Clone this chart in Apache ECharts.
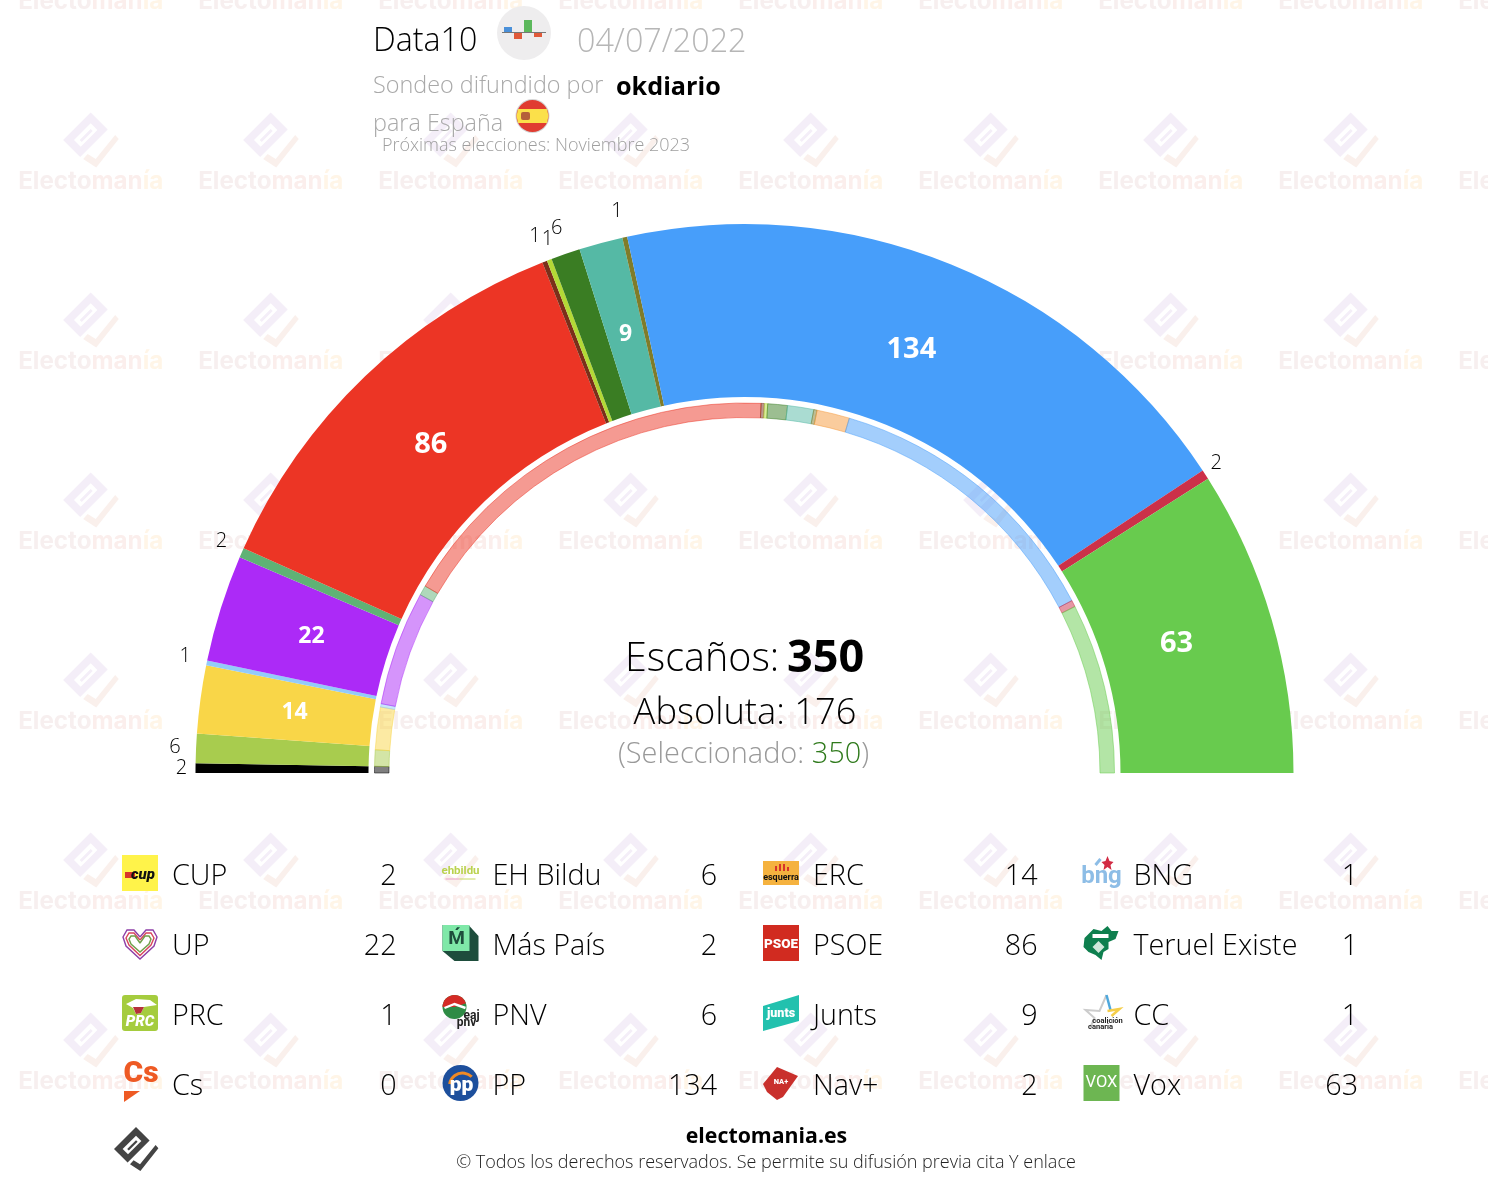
<!DOCTYPE html>
<html><head><meta charset="utf-8">
<style>html,body{margin:0;padding:0;background:#fff}#c{width:1488px;height:1186px}</style>
<script src="https://cdn.jsdelivr.net/npm/echarts@6/dist/echarts.min.js"></script>
</head><body><div id="c"></div>
<script>
const parties = ['CUP','EH Bildu','ERC','BNG','UP','Más País','PSOE','PRC','Teruel Existe','PNV','Junts','CC','Cs','PP','Nav+','Vox'];
const seats   = [2,6,14,1,22,2,86,1,1,6,9,1,0,134,2,63];
const previousSeats = [2,5,13,1,35,3,121,1,1,6,8,1,10,89,2,52];
const colors  = ['#000000','#A8CC4E','#F9D648','#93CBF9','#AC2AF7','#5FB275','#EC3525','#7A2F1A','#B4D936','#3A7D23','#55B9A5','#7F7C2A','#F59A3C','#479EFA','#CC3049','#68CB4E'];
const legendOrder = ['CUP','UP','PRC','Cs','EH Bildu','Más País','PNV','PP','ERC','PSOE','Junts','Nav+','BNG','Teruel Existe','CC','Vox'];
const totalSeats = 350, majority = 176, selected = 350;
const pollster = 'Data10', pollDate = '04/07/2022', media = 'okdiario';

const F = '"Open Sans"';
const C = [744.5, 773];
const seatOf = n => seats[parties.indexOf(n)];
const outerLabelRadius = {560:['CUP','Nav+'],567:['EH Bildu','BNG','Más País'],568:['Teruel Existe'],573:['PRC','PNV','CC']};
const labelNudge = {'PP':[-4,-3],'Vox':[-4,-3],'Nav+':[-1,-4],'BNG':[-1,-2],'CC':[-2,0],'Más País':[-1,-3],'Teruel Existe':[6,0]};

const base = {type:'pie',center:C,startAngle:180,endAngle:0,silent:true,animation:false,avoidLabelOverlap:false,labelLine:{show:false},labelLayout:{hideOverlap:false},emphasis:{disabled:true}};
const series = [
 Object.assign({},base,{radius:[376,549],
  data:parties.map((n,i)=>({name:n,value:seats[i],itemStyle:{color:colors[i]},label:{show:false}}))}),
 Object.assign({},base,{radius:[355.5,370],
  data:parties.map((n,i)=>({name:n,value:previousSeats[i],itemStyle:{color:colors[i],opacity:.5,borderColor:colors[i],borderWidth:1},label:{show:false}}))}),
 Object.assign({},base,{radius:[451,451],
  data:parties.map((n,i)=>({name:n,value:seats[i],itemStyle:{color:'transparent'},
    label:{show:seats[i]>=9,position:'inside',offset:labelNudge[n]||[0,0],formatter:'{c}',color:'#fff',fontFamily:F,fontWeight:700,fontSize:seats[i]>=50?29:23}}))})
];
Object.keys(outerLabelRadius).forEach(r=>{
 series.push(Object.assign({},base,{radius:[+r,+r],
  data:parties.map((n,i)=>({name:n,value:seats[i],itemStyle:{color:'transparent'},
    label:{show:outerLabelRadius[r].includes(n),position:'inside',offset:labelNudge[n]||[0,0],formatter:'{c}',color:'#000',fontFamily:F,fontWeight:300,fontSize:20}}))}));
});

const g = [];
const T=(x,y,s,size,fill,o={})=>({type:'text',x,y,style:Object.assign({text:s,fontFamily:o.ff||F,fontSize:size,fontWeight:o.w||300,fontStyle:o.st||'normal',fill,textAlign:o.a||'left',textVerticalAlign:'middle'})});
const P=(pts,fill)=>({type:'polygon',shape:{points:pts},style:{fill}});
const L=(pts,stroke,w)=>({type:'polyline',shape:{points:pts},style:{stroke,fill:'none',lineWidth:w}});
const R=(x,y,w,h,fill,r)=>({type:'rect',shape:{x,y,width:w,height:h,r:r||0},style:{fill}});
const O=(cx,cy,r,fill)=>({type:'circle',shape:{cx,cy,r},style:{fill}});
const G=(x,y,children)=>({type:'group',x,y,children});

function logo(x,y,s,c1,c2,hole){
 const m=a=>a.map(p=>[p[0]*s,p[1]*s]);
 return G(x,y,[
  P(m([[0,-27.5],[17,-10.5],[-10.5,17],[-27.5,0]]),c1),
  P(m([[-16.7,0],[0,-16.7],[6.7,-10],[-10,6.7]]),hole),
  P(m([[-11,0],[0,-11],[2,-9],[-9,2]]),c1),
  P(m([[24.5,-5],[28,-1],[5.5,27.5],[-7.5,19],[-3,14],[5,19]]),c2)
 ]);
}
// watermark tiles
const wmRich={a:{fontFamily:'Inter',fontWeight:700,fontSize:24.2,fill:'#f7efef',color:'#f7efef'},b:{fontFamily:'Inter',fontWeight:700,fontSize:24.2,fill:'#fbeeec',color:'#fbeeec'},c:{fontFamily:'Inter',fontWeight:700,fontSize:24.2,fill:'#fff5e7',color:'#fff5e7'}};
for(let k=0;k<9;k++){for(let j=0;j<7;j++){
 const x=90.7+180*k,y=2+180*j;
 if(j>0) g.push(logo(x,y-42,1,'#f4eef8','#faf0ec','#ffffff'));
 g.push({type:'text',x,y,style:{text:'{a|Electo}{b|man}{c|ía}',rich:wmRich,textAlign:'center',textVerticalAlign:'middle'}});
}}
// header
g.push(T(373,42,pollster,32.2,'#000'));
g.push(O(524,33,27,'#eeedee'));
g.push(R(504,27,8,6,'#4a90d9'),R(514,33,8,6,'#e05a3a'),R(524,20,8,13,'#5cb85c'),R(534,33,8,4,'#e05a3a'),R(502,32,44,1,'#777'));
g.push(T(577,43,pollDate,32.3,'#b6b6b6'));
g.push(T(373,86,'Sondeo difundido por',23.4,'#a9a9a9'));
g.push(T(616,88,media,25.2,'#000',{w:700}));
g.push(T(373,124,'para España',23.4,'#a9a9a9'));
g.push(O(532.5,116,17,'#d5d5d5'),O(532.5,116,16,'#E03C31'),
 P([[-14.4,-7],[14.4,-7],[16,0],[14.4,7],[-14.4,7],[-16,0]].map(p=>[p[0]+532.5,p[1]+116]),'#FBE04A'),
 R(521,112,9,8,'#b5603a',2));
g.push(T(382,146,'Próximas elecciones: Noviembre 2023',18,'#9f9f9f'));
// centre text
g.push({type:'text',x:625,y:659.5,style:{text:'{a|Escaños:}{s| }{b|'+totalSeats+'}',textVerticalAlign:'middle',rich:{a:{fontFamily:F,fontWeight:300,fontSize:39.5,fill:'#000',color:'#000'},s:{fontFamily:F,fontWeight:300,fontSize:30,fill:'#000',color:'#000'},b:{fontFamily:F,fontWeight:700,fontSize:45,fill:'#000',color:'#000'}}}});
g.push(T(745,714,'Absoluta: '+majority,36.3,'#000',{a:'center'}));
g.push({type:'text',x:618,y:755,style:{text:'{a|(Seleccionado: }{b|'+selected+'}{a|)}',textVerticalAlign:'middle',rich:{a:{fontFamily:F,fontWeight:300,fontSize:28.9,fill:'#999',color:'#999'},b:{fontFamily:F,fontWeight:300,fontSize:28.9,fill:'#2f7a1c',color:'#2f7a1c'}}}});

// party icons, drawn around their own centre
const TXT=(x,y,s,size,fill,o={})=>T(x,y,s,size,fill,Object.assign({a:'center',w:700,ff:'Roboto'},o));
const icons={
 'CUP':()=>[R(-18,-18,36,36,'#FFF34A'),R(-15,-1,10,6,'#D8342A'),TXT(3,2,'cup',15,'#111',{st:'italic',w:900})],
 'UP':()=>[
   L([[0,-6],[-6,-13],[-13,-13],[-17,-6],[-14,3],[0,16],[14,3],[17,-6],[13,-13],[6,-13],[0,-6]],'#8E3FA8',1.4),
   L([[0,-3],[-6,-10],[-11,-10],[-14,-5],[-11,2],[0,12.5],[11,2],[14,-5],[11,-10],[6,-10],[0,-3]],'#D8455C',1.4),
   L([[0,0],[-5,-7],[-9,-7],[-11,-4],[-9,1],[0,9],[9,1],[11,-4],[9,-7],[5,-7],[0,0]],'#6FA04A',1.4)],
 'PRC':()=>[R(-18,-18,36,36,'#A5CC3E',3),P([[-14,-9],[-4,-14],[10,-13],[17,-8],[4,-6],[1,0],[-4,1],[-7,-5]],'#fff'),P([[-7,-6],[4,-6],[1,0],[-4,1]],'#B5303A'),TXT(0,9,'PRC',15,'#fff',{st:'italic',w:900})],
 'Cs':()=>[TXT(1,-9,'Cs',30,'#EE5A24',{w:900}),P([[-16,8],[0,8],[-16,19]],'#EE5A24')],
 'EH Bildu':()=>[TXT(0,-2,'ehbildu',11.5,'#BAD24E'),L([[-15,6],[-1,6]],'#E9A0C8',1),L([[-1,6],[15,6]],'#C8D860',1)],
 'Más País':()=>[P([[-18,8],[-6,18],[18,18],[18,-7],[8,-18],[0,-18],[-18,-18]],'#1E4D3C'),R(-18,-18,27,26,'#7FE8A8'),TXT(-4,-4,'Ḿ',19,'#1E4D3C')],
 'PNV':()=>[O(-6,-6,12,'#2E8B45'),{type:'sector',shape:{cx:-6,cy:-6,r:12,r0:0,startAngle:Math.PI,endAngle:Math.PI*1.9},style:{fill:'#D42A25'}},L([[-16,-5],[-6,-9],[5,-5]],'#fff',2.4),TXT(11,3,'eaj',12,'#222'),TXT(6,10,'pnv',12,'#222')],
 'PP':()=>[O(0,0,18,'#1D4F9C'),{type:'arc',shape:{cx:2,cy:3,r:13,startAngle:Math.PI*1.05,endAngle:Math.PI*1.75},style:{stroke:'#F08A24',lineWidth:3,fill:'none'}},TXT(1,3,'pp',21,'#fff',{w:900})],
 'ERC':()=>[R(-18,-12,36,24,'#F5B23F'),R(-6,-7,2,5,'#D8342A'),R(-2,-9,2,7,'#D8342A'),R(2,-9,2,7,'#D8342A'),R(6,-6,2,4,'#D8342A'),TXT(0,5,'esquerra',9,'#111')],
 'PSOE':()=>[R(-18,-18,36,36,'#D12B20'),TXT(0,2,'PSOE',13.5,'#fff',{w:900})],
 'Junts':()=>[P([[-18,-7],[18,-18],[18,8],[-18,18]],'#22C1AE'),TXT(0,1,'junts',12.5,'#fff',{w:900})],
 'Nav+':()=>[P([[-18,1],[-4,-16],[17,-7],[2,14],[-4,17],[-14,9]],'#C9302C'),TXT(0,-1,'NA+',7.5,'#fff',{w:900})],
 'BNG':()=>[TXT(0,4,'bng',24,'#8DBDE6'),P([[6,-17],[8,-12],[12,-11],[9,-8],[10,-3],[6,-6],[2,-3],[3,-8],[0,-11],[4,-12]],'#D22B44'),L([[-6,-8],[-1,-14]],'#8DBDE6',3)],
 'Teruel Existe':()=>[P([[-17,-5],[-8,-14],[0,-12],[6,-17],[10,-12],[17,-12],[14,-4],[7,-1],[7,6],[2,9],[0,17],[-6,12],[-13,9],[-18,4]],'#0E7F4E'),R(-9,-9,16,4,'#fff'),P([[-3,-2],[3,4],[-3,10],[-9,4]],'#cfe8da')],
 'CC':()=>[L([[5,-18],[-2,-2],[-16,-3],[-7,5],[-11,14]],'#cccccc',2),L([[5,-18],[9,-3]],'#4FA8DC',2.5),L([[6,-2],[18,-4],[10,3]],'#F5CE4A',2.5),TXT(6,8,'coalición',7.5,'#222'),TXT(-1,14,'canaria',7.5,'#222')],
 'Vox':()=>[R(-18,-18,36,36,'#6DB652'),TXT(0,0,'VOX',16.5,'#fff',{w:400})]
};
legendOrder.forEach((n,i)=>{
 const col=Math.floor(i/4),row=i%4;
 const x0=172+col*320.5,y=875+row*70;
 g.push(G(x0-32,y-2,icons[n]()));
 g.push(T(x0,y+2,n,28.7,'#000'));
 g.push(T(396.5+col*320.5,y+2,String(seatOf(n)),28.7,'#000',{a:'right'}));
});
// footer
g.push(logo(136,1149,.8,'#444','#444','#fff'));
g.push(T(766.5,1137,'electomania.es',21.3,'#000',{a:'center',w:700}));
g.push(T(766,1163,'© Todos los derechos reservados. Se permite su difusión previa cita Y enlace',18,'#222',{a:'center'}));

const chart=echarts.init(document.getElementById('c'),null,{renderer:'canvas',width:1488,height:1186});
chart.setOption({animation:false,backgroundColor:'#fff',graphic:{elements:g},series});
</script></body></html>
